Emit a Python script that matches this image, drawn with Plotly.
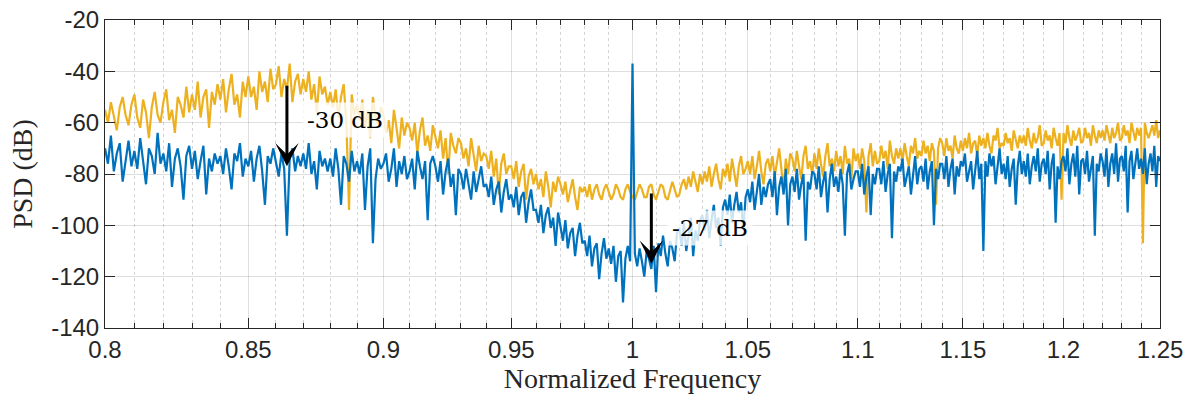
import numpy as np
import plotly.graph_objects as go

# Frequency grid (normalized), 0.001 step
freq_start, freq_stop = 0.8, 1.25

# Orange PSD (dB), blocks of 0.01
psd_orange = [
    -55,-60,-52,-58,-63,-54,-50,-57,-61,-53,
    -49,-58,-62,-51,-56,-66,-54,-48,-57,-60,
    -52,-47,-59,-55,-64,-50,-53,-58,-46,-56,
    -49,-55,-44,-58,-50,-47,-62,-48,-53,-45,
    -51,-43,-56,-47,-41,-53,-49,-58,-44,-50,
    -42,-50,-46,-55,-40,-48,-44,-52,-39,-47,
    -45,-38,-50,-43,-47,-37,-52,-44,-41,-49,
    -43,-48,-40,-51,-45,-56,-42,-49,-46,-53,
    -48,-54,-47,-58,-50,-45,-60,-94,-49,-57,
    -53,-59,-51,-62,-55,-66,-50,-58,-61,-54,
    -57,-64,-59,-68,-55,-62,-70,-58,-65,-60,
    -62,-67,-60,-72,-63,-58,-69,-65,-71,-61,
    -65,-70,-63,-74,-66,-80,-64,-69,-72,-66,
    -68,-74,-70,-77,-66,-73,-79,-69,-75,-72,
    -73,-78,-71,-81,-74,-88,-76,-72,-80,-77,
    -77,-82,-75,-85,-79,-76,-90,-81,-78,-84,
    -80,-86,-82,-89,-79,-85,-93,-83,-87,-81,
    -84,-88,-83,-91,-86,-82,-89,-94,-85,-87,
    -85,-89,-84,-90,-86,-84,-88,-90,-86,-84,
    -87,-90,-88,-84,-86,-89,-90,-86,-84,-87,
    -89,-90,-87,-84,-86,-89,-89,-85,-84,-88,
    -90,-87,-84,-85,-89,-90,-86,-83,-86,-89,
    -88,-84,-82,-86,-81,-85,-79,-83,-87,-80,
    -84,-79,-83,-77,-85,-80,-76,-82,-86,-78,
    -81,-76,-83,-74,-79,-85,-77,-73,-80,-78,
    -75,-80,-73,-82,-77,-71,-79,-84,-76,-74,
    -79,-73,-81,-76,-70,-78,-86,-74,-80,-72,
    -74,-79,-71,-77,-82,-73,-69,-78,-75,-80,
    -72,-78,-70,-76,-81,-73,-68,-77,-74,-79,
    -71,-77,-73,-80,-69,-76,-74,-82,-70,-75,
    -72,-78,-70,-75,-95,-73,-68,-77,-71,-76,
    -75,-69,-74,-71,-78,-67,-73,-76,-70,-74,
    -70,-75,-68,-73,-77,-69,-72,-66,-74,-71,
    -73,-67,-72,-69,-75,-68,-71,-92,-70,-66,
    -68,-73,-66,-71,-69,-74,-65,-70,-72,-67,
    -71,-66,-70,-64,-72,-68,-67,-73,-65,-69,
    -66,-70,-64,-69,-72,-65,-67,-62,-70,-68,
    -69,-64,-68,-66,-71,-63,-67,-70,-65,-68,
    -65,-69,-62,-67,-70,-64,-68,-66,-61,-69,
    -68,-63,-67,-65,-70,-62,-66,-69,-64,-90,
    -64,-68,-61,-66,-69,-63,-67,-65,-62,-68,
    -67,-62,-66,-64,-69,-61,-65,-68,-63,-66,
    -63,-67,-61,-65,-68,-62,-66,-64,-60,-67,
    -66,-61,-65,-63,-68,-60,-64,-67,-62,-65,
    -62,-107,-60,-64,-66,-63,-61,-65,-59,-66,
    -63,
]

# Blue PSD (dB), blocks of 0.01
psd_blue = [
    -70,-76,-65,-79,-72,-68,-83,-74,-67,-77,
    -71,-78,-66,-75,-84,-70,-73,-80,-64,-76,
    -72,-79,-68,-85,-74,-70,-77,-90,-73,-69,
    -78,-71,-82,-75,-69,-88,-74,-79,-72,-76,
    -73,-80,-70,-77,-86,-72,-75,-68,-81,-74,
    -77,-71,-83,-74,-69,-79,-92,-73,-76,-70,
    -75,-81,-72,-78,-104,-74,-70,-79,-73,-77,
    -72,-78,-68,-80,-75,-86,-71,-77,-74,-79,
    -74,-81,-70,-78,-92,-73,-76,-83,-71,-79,
    -75,-80,-72,-94,-77,-70,-107,-82,-74,-78,
    -76,-72,-83,-78,-70,-85,-75,-80,-73,-82,
    -79,-74,-86,-71,-77,-82,-75,-98,-76,-73,
    -77,-83,-75,-88,-79,-74,-85,-80,-96,-78,
    -80,-86,-78,-84,-90,-79,-87,-82,-77,-85,
    -84,-89,-81,-92,-86,-83,-95,-87,-82,-90,
    -88,-93,-85,-96,-89,-87,-99,-91,-86,-94,
    -94,-99,-92,-103,-96,-93,-101,-97,-108,-95,
    -100,-106,-98,-109,-103,-101,-112,-104,-99,-107,
    -106,-112,-104,-116,-109,-107,-121,-111,-105,-113,
    -109,-115,-108,-122,-112,-110,-130,-113,-108,-114,
    -37,-111,-116,-109,-114,-120,-110,-113,-117,-108,
    -126,-107,-112,-104,-111,-116,-106,-109,-114,-103,
    -101,-108,-99,-110,-104,-97,-112,-102,-106,-98,
    -96,-102,-94,-105,-98,-92,-101,-97,-108,-93,
    -90,-96,-88,-99,-92,-87,-95,-91,-102,-89,
    -86,-91,-83,-94,-87,-80,-92,-85,-89,-84,
    -82,-89,-79,-96,-85,-81,-88,-78,-100,-84,
    -81,-87,-78,-90,-84,-80,-106,-83,-86,-79,
    -80,-86,-77,-89,-83,-79,-95,-82,-76,-85,
    -81,-87,-78,-84,-104,-80,-76,-86,-82,-79,
    -79,-85,-76,-88,-81,-77,-96,-80,-84,-78,
    -78,-84,-75,-87,-80,-76,-105,-79,-83,-77,
    -79,-74,-85,-81,-77,-88,-80,-73,-84,-78,
    -77,-83,-74,-86,-79,-75,-100,-78,-82,-76,
    -76,-82,-73,-85,-78,-74,-88,-77,-81,-75,
    -77,-72,-83,-79,-75,-86,-78,-71,-82,-76,
    -110,-75,-81,-72,-77,-73,-84,-78,-70,-80,
    -76,-82,-73,-85,-78,-74,-92,-77,-71,-80,
    -75,-81,-72,-84,-77,-73,-79,-70,-83,-76,
    -74,-80,-71,-86,-76,-72,-99,-77,-82,-75,
    -73,-79,-70,-84,-76,-72,-81,-69,-88,-75,
    -74,-80,-71,-83,-77,-73,-104,-76,-79,-72,
    -75,-81,-70,-85,-76,-72,-80,-68,-83,-74,
    -73,-79,-69,-95,-75,-71,-82,-76,-70,-78,
    -74,-80,-70,-84,-76,-72,-79,-69,-85,-73,
    -75,
]

x_tick_vals = [0.8, 0.85, 0.9, 0.95, 1.0, 1.05, 1.1, 1.15, 1.2, 1.25]
x_tick_text = ["0.8", "0.85", "0.9", "0.95", "1", "1.05", "1.1", "1.15", "1.2", "1.25"]
y_tick_vals = [-140, -120, -100, -80, -60, -40, -20]
y_tick_text = ["-140", "-120", "-100", "-80", "-60", "-40", "-20"]

# annotations: (arrow x, arrow top, arrow tip, label, label x, label y)
ann_arrow_x = [0.864, 1.008]
ann_arrow_top = [-45, -87]
ann_arrow_tip = [-77, -115]
ann_labels = ["-30 dB", "-27 dB"]
ann_label_x = [0.8855, 1.0335]
ann_label_y = [-59, -101]

freq = np.linspace(freq_start, freq_stop, len(psd_blue))
assert len(psd_orange) == len(psd_blue)

fig = go.Figure()
fig.add_trace(go.Scatter(x=freq, y=psd_orange, mode="lines",
                         line=dict(color="#EDB120", width=2.2), showlegend=False))
fig.add_trace(go.Scatter(x=freq, y=psd_blue, mode="lines",
                         line=dict(color="#0072BD", width=2.2), showlegend=False))

minor_vals = [round(0.8 + 0.01 * i, 2) for i in range(46)]
minor_vals = [v for v in minor_vals if v not in x_tick_vals]

axis_col = "#262626"
fig.update_xaxes(
    type="log", range=[np.log10(freq_start), np.log10(freq_stop)],
    tickmode="array", tickvals=x_tick_vals, ticktext=x_tick_text,
    ticks="inside", ticklen=10, tickcolor=axis_col, tickwidth=1,
    showline=True, linecolor=axis_col, linewidth=1, mirror="allticks",
    showgrid=True, gridcolor="rgba(38,38,38,0.15)", gridwidth=1,
    minor=dict(tickmode="array", tickvals=minor_vals, ticks="inside", ticklen=5,
               tickcolor=axis_col, showgrid=True, gridcolor="rgba(38,38,38,0.2)",
               griddash="dot", gridwidth=1),
    tickfont=dict(family="Liberation Sans, Arial", size=24, color=axis_col),
    title=dict(text="Normalized Frequency",
               font=dict(family="Liberation Serif, serif", size=28, color=axis_col),
               standoff=4),
    zeroline=False, automargin=False,
)
fig.update_yaxes(
    range=[-140, -20], tickmode="array", tickvals=y_tick_vals, ticktext=y_tick_text,
    ticks="inside", ticklen=10, tickcolor=axis_col, tickwidth=1,
    showline=True, linecolor=axis_col, linewidth=1, mirror="allticks",
    showgrid=True, gridcolor="rgba(38,38,38,0.15)", gridwidth=1,
    tickfont=dict(family="Liberation Sans, Arial", size=24, color=axis_col),
    title=dict(text="PSD (dB)",
               font=dict(family="Liberation Serif, serif", size=28, color=axis_col),
               standoff=10),
    zeroline=False, automargin=False,
)

annotations = []
for ax_x, top, tip, lab, lx, ly in zip(ann_arrow_x, ann_arrow_top, ann_arrow_tip,
                                        ann_labels, ann_label_x, ann_label_y):
    annotations.append(dict(
        x=np.log10(ax_x), y=tip, ax=np.log10(ax_x), ay=top,
        xref="x", yref="y", axref="x", ayref="y",
        text="", showarrow=True, arrowhead=3, arrowsize=1.3, arrowwidth=3,
        arrowcolor="black", standoff=0, startstandoff=0))
    annotations.append(dict(
        x=np.log10(lx), y=ly, xref="x", yref="y", text=lab, showarrow=False,
        font=dict(family="DejaVu Serif, serif", size=23, color="black"),
        bgcolor="rgba(255,255,255,0.8)", borderpad=4))

fig.update_layout(
    width=1192, height=400,
    margin=dict(l=105, r=32, t=20, b=72),
    paper_bgcolor="white", plot_bgcolor="white",
    annotations=annotations,
)

fig.write_html("out.html", config={"displayModeBar": False},
               post_script="document.body.style.margin='0';")
